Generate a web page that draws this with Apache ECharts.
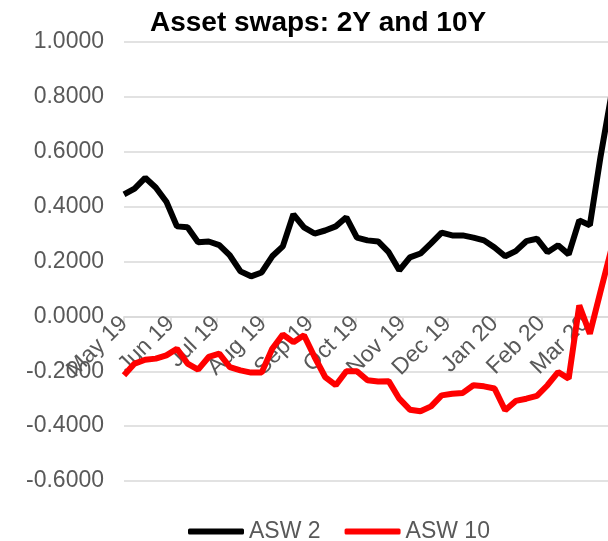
<!DOCTYPE html>
<html lang="en">
<head>
  <meta charset="UTF-8">
  <title>Asset swaps</title>
  <style>
    html, body { margin: 0; padding: 0; background: #fff; }
    #main { width: 608px; height: 541px; }
  </style>
</head>
<body>
  <div id="main"></div>
  <script src="https://cdn.jsdelivr.net/npm/echarts@6/dist/echarts.min.js"></script>
  <script>
    // weekly observations
    const dates = [
      '2019-05-01', '2019-05-08', '2019-05-15', '2019-05-22', '2019-05-29',
      '2019-06-05', '2019-06-12', '2019-06-19', '2019-06-26',
      '2019-07-03', '2019-07-10', '2019-07-17', '2019-07-24', '2019-07-31',
      '2019-08-07', '2019-08-14', '2019-08-21', '2019-08-28',
      '2019-09-04', '2019-09-11', '2019-09-18', '2019-09-25',
      '2019-10-02', '2019-10-09', '2019-10-16', '2019-10-23', '2019-10-30',
      '2019-11-06', '2019-11-13', '2019-11-20', '2019-11-27',
      '2019-12-04', '2019-12-11', '2019-12-18', '2019-12-25',
      '2020-01-01', '2020-01-08', '2020-01-15', '2020-01-22', '2020-01-29',
      '2020-02-05', '2020-02-12', '2020-02-19', '2020-02-26',
      '2020-03-04', '2020-03-11', '2020-03-18'
    ]
    const asw2 = [
      0.445, 0.466, 0.505, 0.470, 0.418,
      0.328, 0.325, 0.270, 0.273,
      0.260, 0.222, 0.164, 0.146, 0.160,
      0.219, 0.255, 0.372, 0.324,
      0.302, 0.313, 0.328, 0.361,
      0.287, 0.277, 0.273, 0.234, 0.168,
      0.215, 0.229, 0.266, 0.305,
      0.295, 0.295, 0.287, 0.277,
      0.251, 0.219, 0.238, 0.274, 0.283,
      0.234, 0.259, 0.226, 0.350,
      0.332, 0.580, 0.800
    ]
    const asw10 = [
      -0.215, -0.172, -0.158, -0.154, -0.142,
      -0.118, -0.172, -0.194, -0.148,
      -0.136, -0.185, -0.197, -0.205, -0.205,
      -0.118, -0.066, -0.094, -0.069,
      -0.148, -0.221, -0.251, -0.200,
      -0.200, -0.233, -0.237, -0.236, -0.300,
      -0.340, -0.346, -0.328, -0.288,
      -0.282, -0.279, -0.251, -0.255,
      -0.263, -0.342, -0.308, -0.300, -0.290,
      -0.251, -0.203, -0.227, 0.040,
      -0.063, 0.090, 0.240
    ]
    // month ticks and their labels
    const monthTicks = [
      '2019-05-01', '2019-06-01', '2019-07-01', '2019-08-01', '2019-09-01',
      '2019-10-01', '2019-11-01', '2019-12-01', '2020-01-01', '2020-02-01', '2020-03-01'
    ]
    const monthLabels = [
      'May 19', 'Jun 19', 'Jul 19', 'Aug 19', 'Sep 19',
      'Oct 19', 'Nov 19', 'Dec 19', 'Jan 20', 'Feb 20', 'Mar 20'
    ]
    const startDate = '2019-05-01'
    const endDate = '2020-03-16'

    // days since the first date, so the x axis keeps calendar spacing
    function dayNo(s) {
      const p = s.split('-')
      const t = Date.UTC(+p[0], +p[1] - 1, +p[2])
      const p0 = startDate.split('-')
      return Math.round((t - Date.UTC(+p0[0], +p0[1] - 1, +p0[2])) / 86400000)
    }
    const tickDays = monthTicks.map(dayNo)

    const font = 'Liberation Sans, Arial, sans-serif'
    const grey = '#595959'

    const myChart = echarts.init(document.getElementById('main'))
    const option = {
      animation: false,
      textStyle: { fontFamily: font },
      title: {
        text: 'Asset swaps: 2Y and 10Y',
        left: 145,
        top: 4,
        textStyle: { fontSize: 28, fontWeight: 'bold', color: '#000', fontFamily: font }
      },
      legend: {
        bottom: -2,
        left: 188,
        padding: 0,
        icon: 'roundRect',
        itemWidth: 56,
        itemHeight: 6,
        itemGap: 24,
        textStyle: { fontSize: 23, color: grey },
        data: ['ASW 2', 'ASW 10']
      },
      grid: { left: 124, right: 0, top: 42, bottom: 60 },
      xAxis: {
        type: 'value',
        min: 0,
        max: dayNo(endDate),
        axisLine: { onZero: true, onZeroAxisIndex: 0, lineStyle: { color: '#d9d9d9', width: 1.5 } },
        axisTick: {
          show: true,
          length: 6,
          lineStyle: { color: '#d9d9d9', width: 1.5 },
          customValues: tickDays
        },
        axisLabel: {
          rotate: 45,
          fontSize: 23,
          color: grey,
          // labels sit under the zero line, not at the bottom of the grid
          margin: -161,
          customValues: tickDays,
          formatter: function (v) {
            const k = tickDays.indexOf(Math.round(v))
            return k >= 0 ? monthLabels[k] : ''
          }
        },
        splitLine: { show: false }
      },
      yAxis: {
        type: 'value',
        min: -0.6,
        max: 1.0,
        interval: 0.2,
        axisLine: { show: false, onZero: false },
        axisTick: { show: false },
        axisLabel: {
          fontSize: 23,
          color: grey,
          margin: 20,
          formatter: function (v) { return v.toFixed(4) }
        },
        splitLine: { lineStyle: { color: '#d9d9d9', width: 1.5 } }
      },
      series: [
        {
          name: 'ASW 2',
          type: 'line',
          data: dates.map((d, i) => [dayNo(d), asw2[i]]),
          showSymbol: false,
          clip: true,
          itemStyle: { color: '#000' },
          lineStyle: { color: '#000', width: 6 },
          z: 3
        },
        {
          name: 'ASW 10',
          type: 'line',
          data: dates.map((d, i) => [dayNo(d), asw10[i]]),
          showSymbol: false,
          clip: true,
          itemStyle: { color: '#ff0000' },
          lineStyle: { color: '#ff0000', width: 6 },
          z: 2
        }
      ]
    }
    myChart.setOption(option)
  </script>
</body>
</html>
